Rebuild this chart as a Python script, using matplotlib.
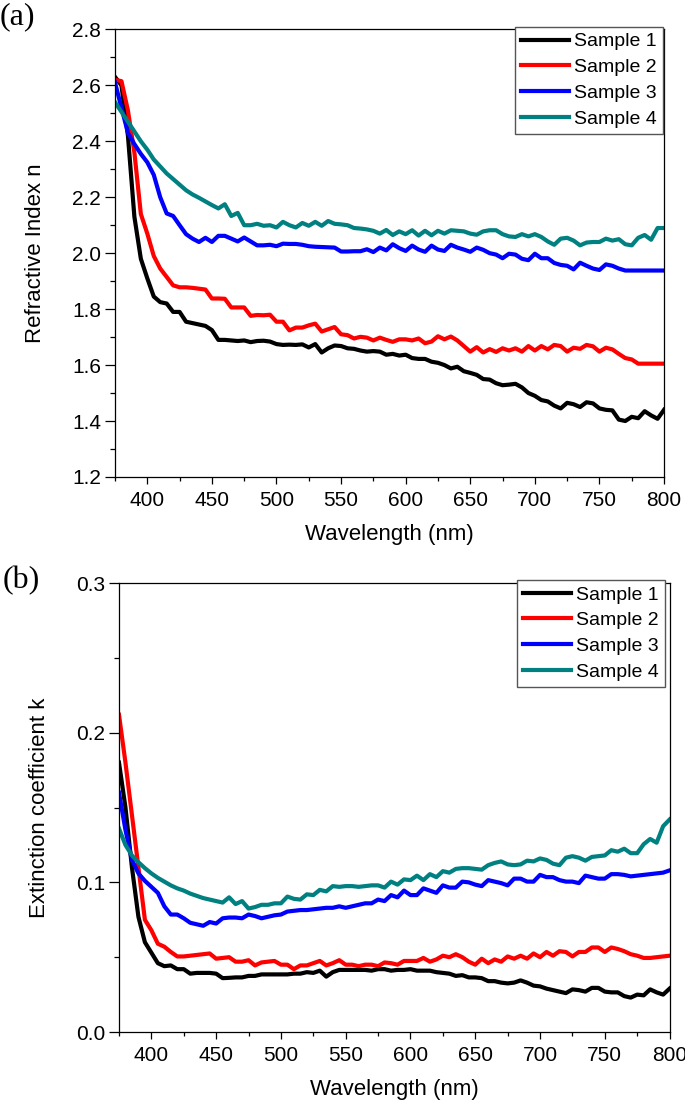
import matplotlib
matplotlib.use("Agg")
import matplotlib.pyplot as plt
from matplotlib.ticker import MultipleLocator, FormatStrFormatter

plt.rcParams['font.family'] = ['Liberation Sans', 'DejaVu Sans']

# wavelength grid (nm), one reading every 5 nm
wavelength = list(range(375, 805, 5))
labels = ['Sample 1', 'Sample 2', 'Sample 3', 'Sample 4']
colors = ['#000000', '#ff0000', '#0000ff', '#008080']

# (a) refractive index n
n1 = [2.63, 2.60, 2.42, 2.13, 1.98, 1.91, 1.845, 1.825, 1.82, 1.79,
      1.79, 1.755, 1.75, 1.745, 1.74, 1.725, 1.69, 1.69, 1.688, 1.686,
      1.688, 1.682, 1.686, 1.687, 1.684, 1.675, 1.672, 1.673, 1.672, 1.674,
      1.663, 1.675, 1.645, 1.66, 1.67, 1.668, 1.66, 1.658, 1.652, 1.648,
      1.65, 1.648, 1.637, 1.64, 1.634, 1.637, 1.625, 1.622, 1.622, 1.612,
      1.608, 1.60, 1.588, 1.594, 1.578, 1.572, 1.565, 1.55, 1.548, 1.535,
      1.528, 1.53, 1.533, 1.52, 1.50, 1.49, 1.475, 1.47, 1.455, 1.445,
      1.465, 1.46, 1.45, 1.467, 1.463, 1.445, 1.44, 1.438, 1.405, 1.40,
      1.415, 1.41, 1.435, 1.42, 1.408, 1.44]
n2 = [2.62, 2.615, 2.51, 2.36, 2.14, 2.07, 1.99, 1.945, 1.915, 1.885,
      1.878, 1.878, 1.876, 1.873, 1.87, 1.838, 1.838, 1.837, 1.806, 1.806,
      1.806, 1.776, 1.779, 1.778, 1.78, 1.755, 1.755, 1.724, 1.734, 1.734,
      1.742, 1.748, 1.72, 1.728, 1.736, 1.71, 1.707, 1.695, 1.701, 1.698,
      1.688, 1.698, 1.69, 1.683, 1.692, 1.692, 1.688, 1.695, 1.678, 1.684,
      1.703, 1.692, 1.702, 1.688, 1.668, 1.648, 1.664, 1.645, 1.657, 1.647,
      1.66, 1.652, 1.66, 1.648, 1.668, 1.652, 1.668, 1.656, 1.672, 1.668,
      1.648, 1.662, 1.658, 1.672, 1.667, 1.648, 1.662, 1.656, 1.64, 1.625,
      1.62, 1.605, 1.605, 1.605, 1.605, 1.605]
n3 = [2.61, 2.52, 2.43, 2.39, 2.355, 2.325, 2.28, 2.20, 2.142, 2.133,
      2.10, 2.068, 2.052, 2.04, 2.055, 2.04, 2.062, 2.062, 2.052, 2.042,
      2.056, 2.042, 2.028, 2.028, 2.03, 2.025, 2.034, 2.033, 2.033, 2.03,
      2.025, 2.023, 2.022, 2.021, 2.02, 2.006, 2.006, 2.007, 2.007, 2.014,
      2.004, 2.02, 2.01, 2.032, 2.018, 2.008, 2.027, 2.013, 2.005, 2.027,
      2.013, 2.008, 2.03, 2.02, 2.013, 2.005, 2.02, 2.012, 2.0, 1.995,
      1.982, 1.998, 1.995, 1.98, 1.975, 1.998, 1.982, 1.982, 1.965, 1.958,
      1.955, 1.942, 1.966, 1.955, 1.945, 1.94, 1.96, 1.955, 1.945, 1.938,
      1.938, 1.938, 1.938, 1.938, 1.938, 1.938]
n4 = [2.54, 2.505, 2.47, 2.435, 2.40, 2.37, 2.335, 2.31, 2.285, 2.265,
      2.245, 2.225, 2.21, 2.198, 2.185, 2.172, 2.16, 2.175, 2.133, 2.144,
      2.10, 2.10, 2.105, 2.098, 2.10, 2.092, 2.112, 2.10, 2.092, 2.108,
      2.098, 2.112, 2.098, 2.115, 2.105, 2.103, 2.10, 2.09, 2.088, 2.085,
      2.08, 2.07, 2.083, 2.065, 2.078, 2.068, 2.082, 2.063, 2.08, 2.064,
      2.08, 2.07, 2.082, 2.08, 2.078, 2.07, 2.066, 2.078, 2.082, 2.082,
      2.068, 2.06, 2.058, 2.068, 2.06, 2.068, 2.058, 2.042, 2.03, 2.052,
      2.055, 2.045, 2.028, 2.038, 2.04, 2.04, 2.052, 2.045, 2.05, 2.032,
      2.028, 2.055, 2.065, 2.048, 2.09, 2.09]

# (b) extinction coefficient k
k1 = [0.18, 0.15, 0.11, 0.077, 0.06, 0.053, 0.046, 0.044, 0.0445, 0.042,
      0.042, 0.039, 0.0395, 0.0395, 0.0395, 0.039, 0.036, 0.0362, 0.0365, 0.0365,
      0.0375, 0.0375, 0.0385, 0.0385, 0.0385, 0.0385, 0.0385, 0.039, 0.039, 0.040,
      0.0395, 0.041, 0.037, 0.040, 0.0415, 0.0415, 0.0415, 0.0415, 0.0415, 0.041,
      0.042, 0.042, 0.041, 0.0415, 0.0415, 0.042, 0.041, 0.041, 0.041, 0.040,
      0.0395, 0.039, 0.0375, 0.038, 0.0365, 0.0365, 0.036, 0.034, 0.034, 0.033,
      0.0325, 0.033, 0.0345, 0.033, 0.031, 0.0305, 0.029, 0.028, 0.027, 0.026,
      0.0285, 0.028, 0.027, 0.0295, 0.0295, 0.027, 0.0265, 0.0265, 0.024, 0.023,
      0.025, 0.0245, 0.0285, 0.0265, 0.025, 0.029]
k2 = [0.212, 0.18, 0.145, 0.11, 0.075, 0.068, 0.059, 0.057, 0.0535, 0.0505,
      0.0505, 0.051, 0.0515, 0.052, 0.0525, 0.049, 0.0495, 0.050, 0.047, 0.047,
      0.048, 0.0445, 0.0465, 0.047, 0.0475, 0.045, 0.045, 0.042, 0.0445, 0.0445,
      0.046, 0.0475, 0.0445, 0.046, 0.048, 0.045, 0.045, 0.044, 0.045, 0.045,
      0.044, 0.0465, 0.046, 0.045, 0.0475, 0.0475, 0.0475, 0.0495, 0.047, 0.0485,
      0.051, 0.050, 0.052, 0.050, 0.047, 0.045, 0.049, 0.046, 0.0485, 0.047,
      0.0505, 0.049, 0.051, 0.049, 0.0525, 0.050, 0.0535, 0.051, 0.054, 0.0535,
      0.0505, 0.0535, 0.0535, 0.0565, 0.0565, 0.0535, 0.0565, 0.0555, 0.054, 0.052,
      0.051, 0.0495, 0.0495, 0.050, 0.0505, 0.051]
k3 = [0.16, 0.135, 0.115, 0.106, 0.101, 0.097, 0.093, 0.084, 0.0785, 0.0785,
      0.076, 0.073, 0.072, 0.071, 0.0735, 0.0725, 0.076, 0.0765, 0.0765, 0.076,
      0.0785, 0.0775, 0.076, 0.077, 0.078, 0.0785, 0.0805, 0.081, 0.0815, 0.0815,
      0.082, 0.0825, 0.083, 0.083, 0.084, 0.083, 0.084, 0.085, 0.086, 0.086,
      0.0885, 0.0875, 0.0915, 0.090, 0.0945, 0.0915, 0.0915, 0.096, 0.0945, 0.093,
      0.098, 0.0965, 0.0965, 0.1005, 0.1, 0.0985, 0.0975, 0.1015, 0.1005, 0.0995,
      0.098, 0.1025, 0.1025, 0.1005, 0.1005, 0.105, 0.1035, 0.1035, 0.1015, 0.1005,
      0.1005, 0.0995, 0.1045, 0.1035, 0.1025, 0.1025, 0.1055, 0.1055, 0.105, 0.104,
      0.1045, 0.105, 0.1055, 0.106, 0.1065, 0.108]
k4 = [0.136, 0.125, 0.118, 0.1135, 0.1095, 0.106, 0.103, 0.1005, 0.098, 0.096,
      0.0945, 0.0925, 0.091, 0.0895, 0.0885, 0.0875, 0.0865, 0.090, 0.0855, 0.0875,
      0.0825, 0.0835, 0.085, 0.085, 0.086, 0.086, 0.0905, 0.089, 0.0885, 0.092,
      0.0915, 0.095, 0.094, 0.0975, 0.097, 0.0975, 0.0975, 0.097, 0.0975, 0.098,
      0.098, 0.0965, 0.1005, 0.0985, 0.102, 0.1015, 0.1045, 0.1015, 0.1055, 0.1035,
      0.1075, 0.1065, 0.109, 0.1095, 0.1095, 0.109, 0.1085, 0.1115, 0.113, 0.114,
      0.112, 0.1115, 0.112, 0.1145, 0.114, 0.116, 0.115, 0.1125, 0.1115, 0.1165,
      0.1175, 0.1165, 0.1145, 0.117, 0.1175, 0.118, 0.1215, 0.1205, 0.1225, 0.1195,
      0.1195, 0.1255, 0.129, 0.1265, 0.1375, 0.142]

fig = plt.figure(figsize=(6.85, 11.02), dpi=100)
ax_n = fig.add_axes([0.1679, 0.5672, 0.8015, 0.4061])
ax_k = fig.add_axes([0.1737, 0.0635, 0.8038, 0.4074])


def style_axes(ax, ylim, ymajor, yminor, ylabel):
    ax.set_xlim(375, 800)
    ax.set_ylim(*ylim)
    ax.xaxis.set_major_locator(MultipleLocator(50))
    ax.xaxis.set_minor_locator(MultipleLocator(25))
    ax.yaxis.set_major_locator(MultipleLocator(ymajor))
    ax.yaxis.set_minor_locator(MultipleLocator(yminor))
    ax.yaxis.set_major_formatter(FormatStrFormatter('%.1f'))
    ax.tick_params(axis='both', which='both', direction='out', width=0.9,
                   top=False, right=False, labelsize=15)
    ax.tick_params(axis='y', which='major', length=7, pad=3)
    ax.tick_params(axis='y', which='minor', length=3.5)
    ax.tick_params(axis='x', which='major', length=5, pad=5)
    ax.tick_params(axis='x', which='minor', length=3)
    for sp in ax.spines.values():
        sp.set_linewidth(0.9)
    ax.set_xlabel('Wavelength (nm)', fontsize=16)
    ax.set_ylabel(ylabel, fontsize=16)
    ax.xaxis.set_label_coords(0.5, -0.105)
    ax.yaxis.set_label_coords(-0.125, 0.5)


def add_legend(ax, anchor):
    leg = ax.legend(loc='upper right', bbox_to_anchor=anchor, borderaxespad=0,
                    fontsize=14, frameon=True, fancybox=False, framealpha=1,
                    handlelength=2.5, handletextpad=0.25, labelspacing=0.42,
                    borderpad=0.3)
    leg.get_frame().set_edgecolor('#555555')
    leg.get_frame().set_linewidth(1.0)


for ys, lab, c in zip([n1, n2, n3, n4], labels, colors):
    ax_n.plot(wavelength, ys, color=c, lw=3, label=lab)
style_axes(ax_n, (1.2, 2.8), 0.2, 0.1, 'Refractive Index n')
add_legend(ax_n, (0.998, 1.0056))

for ys, lab, c in zip([k1, k2, k3, k4], labels, colors):
    ax_k.plot(wavelength, ys, color=c, lw=3, label=lab)
style_axes(ax_k, (0.0, 0.3), 0.1, 0.05, 'Extinction coefficient k')
add_legend(ax_k, (0.991, 1.0067))

fig.text(0.0, 0.9846, '(a)', fontsize=23, va='center', ha='left',
         family=['Liberation Serif', 'DejaVu Serif'])
fig.text(0.004, 0.4728, '(b)', fontsize=23, va='center', ha='left',
         family=['Liberation Serif', 'DejaVu Serif'])

fig.savefig('out.png', dpi=100)
